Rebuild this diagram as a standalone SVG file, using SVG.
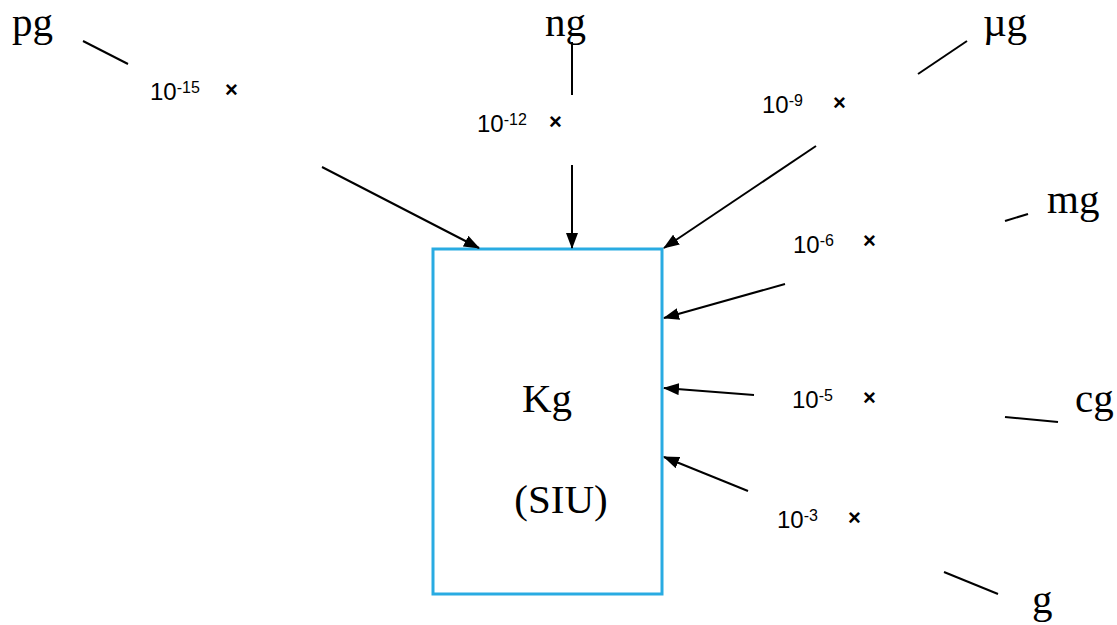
<svg xmlns="http://www.w3.org/2000/svg" width="1117" height="625" viewBox="0 0 1117 625">
<defs>
<marker id="ah" markerWidth="16" markerHeight="12" refX="15" refY="6" orient="auto" markerUnits="userSpaceOnUse">
<path d="M0,0 L16,6 L0,12 Z" fill="#000"/>
</marker>
<style>
.u{font-family:"Liberation Serif","Times New Roman",serif;font-size:41px;fill:#000}
.f{font-family:"Liberation Sans",Arial,sans-serif;font-size:24px;fill:#000}
.s{font-size:16px}
.x{font-size:22px;font-weight:bold}
.ln{stroke:#000;stroke-width:2;fill:none}
.ar{stroke:#000;stroke-width:2;fill:none;marker-end:url(#ah)}
.box{fill:#fff;stroke:#29abe2;stroke-width:3}
</style>
</defs>
<rect width="1117" height="625" fill="#fff"/>
<g id="kg">
<rect class="box" x="433" y="249" width="229" height="345"/>
<text class="u" x="547" y="412" text-anchor="middle">Kg</text>
<text class="u" x="561" y="513" text-anchor="middle">(SIU)</text>
</g>
<g id="pg"><text class="u" x="12" y="36">pg</text><text class="f" x="150" y="100">10<tspan class="s" dy="-7">-15</tspan><tspan class="x" x="225" y="97">×</tspan></text></g>
<g id="ng"><text class="u" x="545" y="36">ng</text><text class="f" x="477" y="132">10<tspan class="s" dy="-7">-12</tspan><tspan class="x" x="549" y="129">×</tspan></text></g>
<g id="ug"><text class="u" x="983" y="36">µg</text><text class="f" x="762" y="113">10<tspan class="s" dy="-7">-9</tspan><tspan class="x" x="833" y="110">×</tspan></text></g>
<g id="mg"><text class="u" x="1047" y="213">mg</text><text class="f" x="793" y="253">10<tspan class="s" dy="-7">-6</tspan><tspan class="x" x="863" y="248">×</tspan></text></g>
<g id="cg"><text class="u" x="1075" y="412">cg</text><text class="f" x="792" y="408">10<tspan class="s" dy="-7">-5</tspan><tspan class="x" x="863" y="405">×</tspan></text></g>
<g id="g"><text class="u" x="1032" y="613">g</text><text class="f" x="777" y="528">10<tspan class="s" dy="-7">-3</tspan><tspan class="x" x="848" y="525">×</tspan></text></g>
<g id="connectors">
<line class="ln" x1="83" y1="41" x2="128" y2="64"/>
<line class="ar" x1="322" y1="167" x2="479" y2="248"/>
<line class="ln" x1="572" y1="42" x2="572" y2="95"/>
<line class="ar" x1="572" y1="165" x2="572" y2="248"/>
<line class="ln" x1="967" y1="41" x2="918" y2="74"/>
<line class="ar" x1="816" y1="146" x2="664" y2="248"/>
<line class="ln" x1="1028" y1="214" x2="1005" y2="221"/>
<line class="ar" x1="785" y1="284" x2="664" y2="318"/>
<line class="ln" x1="1005" y1="417" x2="1058" y2="422"/>
<line class="ar" x1="754" y1="395" x2="664" y2="388"/>
<line class="ln" x1="944" y1="572" x2="998" y2="594"/>
<line class="ar" x1="748" y1="491" x2="664" y2="457"/>
</g>
</svg>
